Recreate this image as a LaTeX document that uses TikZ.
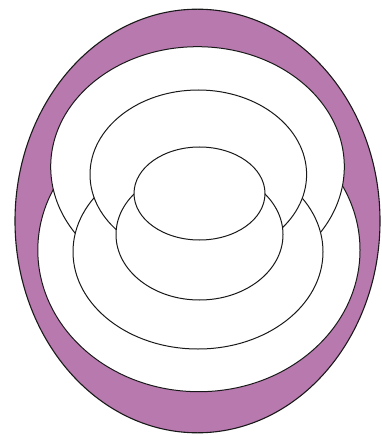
\documentclass[tikz,border=0pt]{standalone}
\definecolor{lobe}{RGB}{184,121,175}
\begin{document}
\begin{tikzpicture}[x=1pt,y=-1pt,
  shell/.style={fill=lobe,draw=black!90,line width=1.1pt},
  layer/.style={fill=white,draw=black!90,line width=1pt}]
\useasboundingbox (0,0) rectangle (381,435);
\fill[white] (0,0) rectangle (381,435);
\draw[shell] (197.5,221) ellipse [x radius=182.5, y radius=211.8];
\draw[layer] (198.9,250.1) ellipse [x radius=161.1, y radius=141.6];
\draw[layer] (197.5,166.8) ellipse [x radius=146.8, y radius=120.1];
\draw[layer] (198,251.8) ellipse [x radius=125, y radius=97.2];
\draw[layer] (198.3,174.5) ellipse [x radius=108.3, y radius=84.5];
\draw[layer] (199.5,234.6) ellipse [x radius=83.5, y radius=65.4];
\draw[layer] (199.5,193.5) ellipse [x radius=65.5, y radius=46.5];
\end{tikzpicture}
\end{document}
